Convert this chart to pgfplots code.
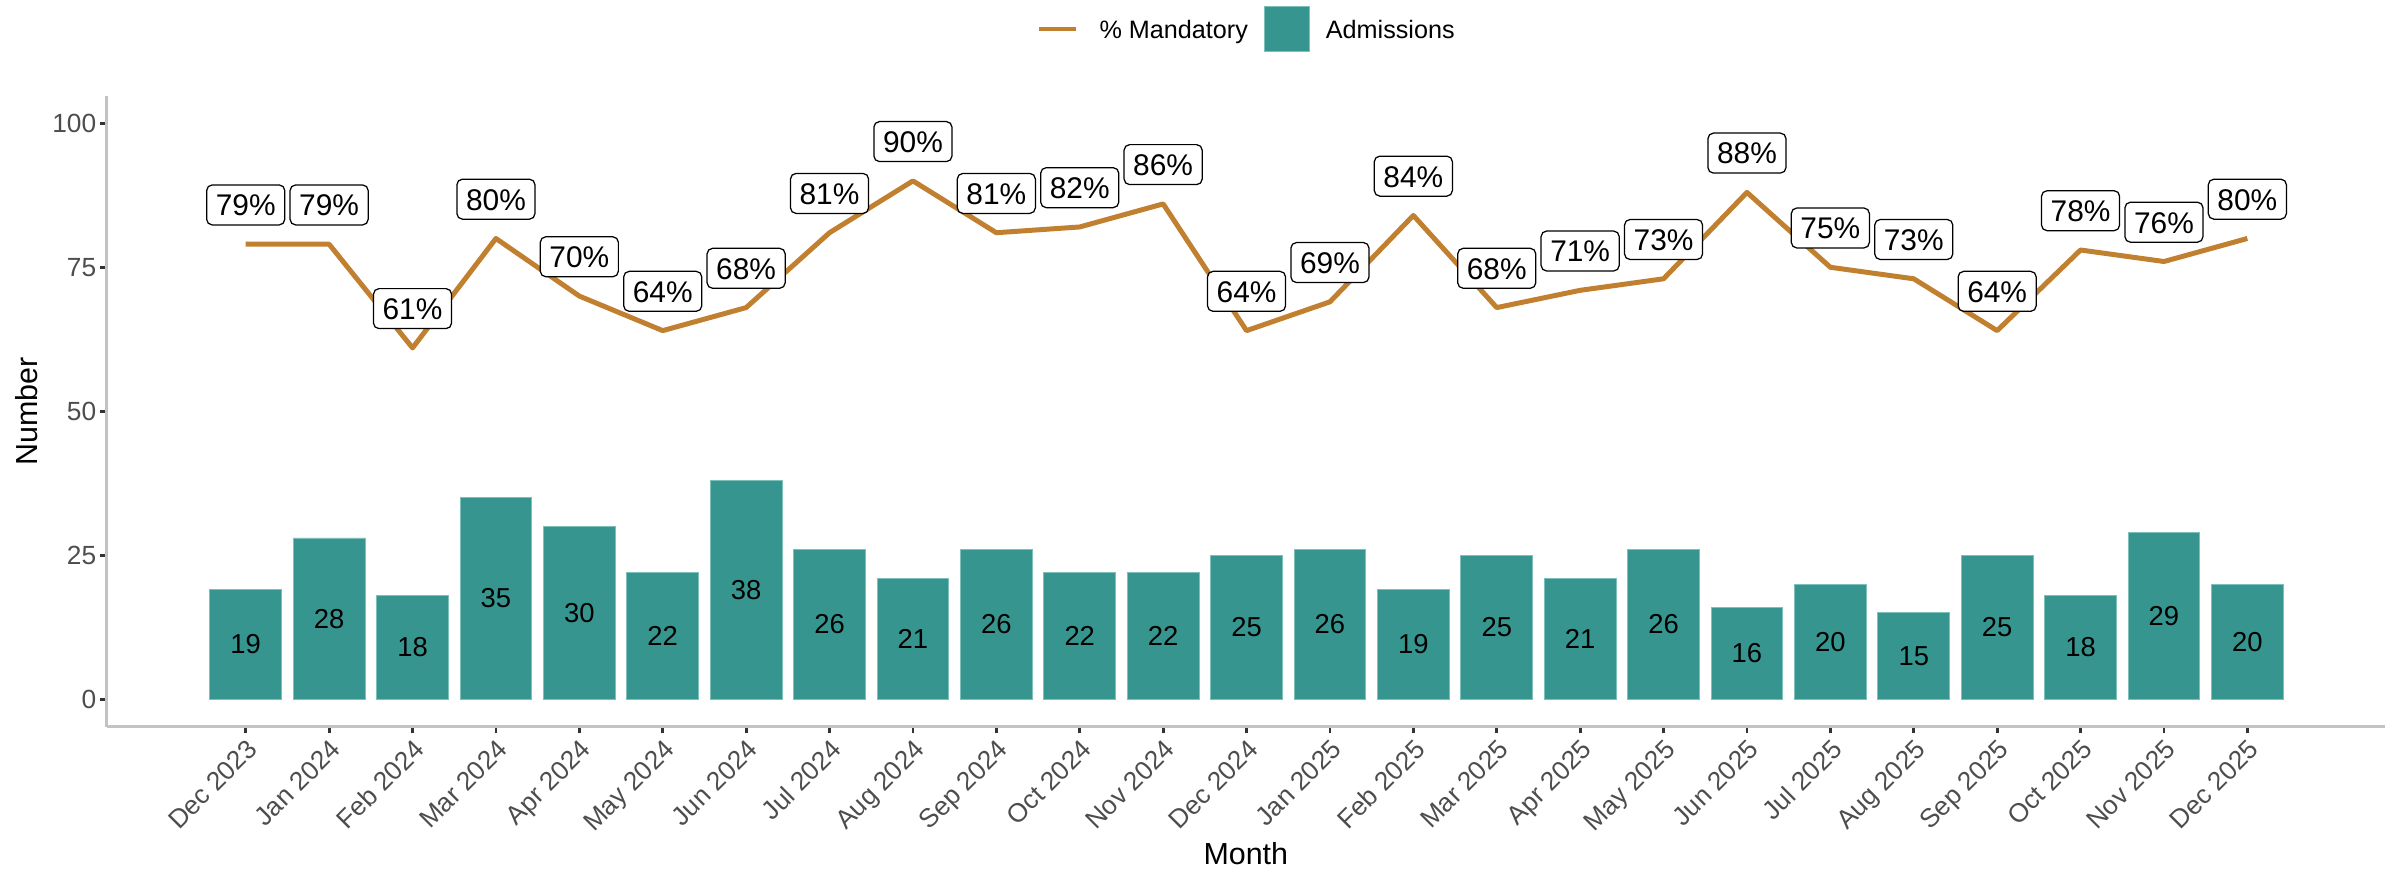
\documentclass[border=0pt]{standalone}
\usepackage{fontspec}
\setmainfont{Liberation Sans}
\usepackage{pgfplots}
\pgfplotsset{compat=1.18}
\usepackage{pgfplotstable}

\definecolor{barcol}{RGB}{54,150,143}
\definecolor{baredge}{RGB}{125,192,185}
\definecolor{linecol}{RGB}{193,128,48}
\definecolor{axcol}{RGB}{195,195,195}
\definecolor{tickcol}{RGB}{51,51,51}
\definecolor{ticklab}{RGB}{77,77,77}

% month index, admissions, % mandatory
\pgfplotstableread{
i adm pct
0 19 79
1 28 79
2 18 61
3 35 80
4 30 70
5 22 64
6 38 68
7 26 81
8 21 90
9 26 81
10 22 82
11 22 86
12 25 64
13 26 69
14 19 84
15 25 68
16 21 71
17 26 73
18 16 88
19 20 75
20 15 73
21 25 64
22 18 78
23 29 76
24 20 80
}\admdata

\pgfplotsset{
  linekey/.style={legend image code/.code={\draw[##1] (0cm,0cm) -- (0.465cm,0cm);}},
  barkey/.style={legend image code/.code={\fill[##1] (0cm,-0.286cm) rectangle (0.572cm,0.286cm);}},
}

\begin{document}
\begin{tikzpicture}
\path[use as bounding box] (0,0) rectangle (30.48cm,11.074cm);
\begin{axis}[
  at={(1.355cm,1.845cm)}, anchor=south west,
  scale only axis, width=28.934cm, height=8.010cm,
  xmin=-1.667, xmax=25.65, ymin=-4.76, ymax=104.74,
  clip=false,
  axis lines*=left,
  axis line style={draw=axcol, line width=1.1pt},
  tick align=outside, major tick length=2.4pt,
  tick style={draw=tickcol, line width=1pt},
  xtick={0,...,24},
  xticklabels={Dec 2023,Jan 2024,Feb 2024,Mar 2024,Apr 2024,May 2024,Jun 2024,Jul 2024,Aug 2024,Sep 2024,Oct 2024,Nov 2024,Dec 2024,Jan 2025,Feb 2025,Mar 2025,Apr 2025,May 2025,Jun 2025,Jul 2025,Aug 2025,Sep 2025,Oct 2025,Nov 2025,Dec 2025},
  ytick={0,25,50,75,100},
  tick label style={font=\fontsize{9.5}{11}\selectfont, text=ticklab},
  xticklabel style={rotate=45, anchor=north east, inner sep=1pt},
  yticklabel style={inner sep=1.2pt},
  /pgf/number format/assume math mode=true,
  xlabel={Month}, ylabel={Number},
  label style={font=\fontsize{11}{13}\selectfont},
  xlabel style={at={(axis description cs:0.5,-0.2014)}, anchor=center},
  ylabel style={at={(axis description cs:-0.03511,0.5)}, anchor=center},
  legend columns=2,
  legend style={at={(axis description cs:0.5,1.1062)}, anchor=center,
    draw=none, fill=none, inner sep=0pt,
    font=\fontsize{9.1}{11}\selectfont,
    nodes={inner sep=0pt, text depth=0pt},
    /tikz/column 1/.style={column sep=0.267cm},
    /tikz/column 2/.style={column sep=0.203cm},
    /tikz/column 3/.style={column sep=0.203cm}},
]
\addlegendimage{linekey, draw=linecol, line width=1.8pt}
\addlegendentry{\% Mandatory}

\addplot[ybar, bar width=0.86, fill=barcol, draw=baredge, line width=0.35pt, barkey]
  table[x=i, y=adm] {\admdata};
\addlegendentry{Admissions}

% counts in the middle of the bars
\addplot[forget plot, draw=none, mark=none, point meta=\thisrow{adm},
  nodes near coords,
  nodes near coords style={anchor=center, font=\fontsize{9.9}{11}\selectfont, text=black}]
  table[x=i, y expr=\thisrow{adm}/2] {\admdata};

\addplot[forget plot, draw=linecol, line width=1.8pt, mark=none, line join=round]
  table[x=i, y=pct] {\admdata};

% boxed percentage labels above the line
\addplot[forget plot, draw=none, mark=none, point meta=y,
  nodes near coords={\pgfmathprintnumber{\pgfplotspointmeta}\%},
  nodes near coords style={anchor=center, yshift=14.2pt, draw=black, line width=0.45pt,
    rounded corners=2pt, fill=white, text=black, font=\fontsize{10.8}{12}\selectfont,
    inner xsep=3.3pt, inner ysep=3.2pt, text height=7.95pt, text depth=0.1pt}]
  table[x=i, y=pct] {\admdata};
\end{axis}
\end{tikzpicture}
\end{document}
